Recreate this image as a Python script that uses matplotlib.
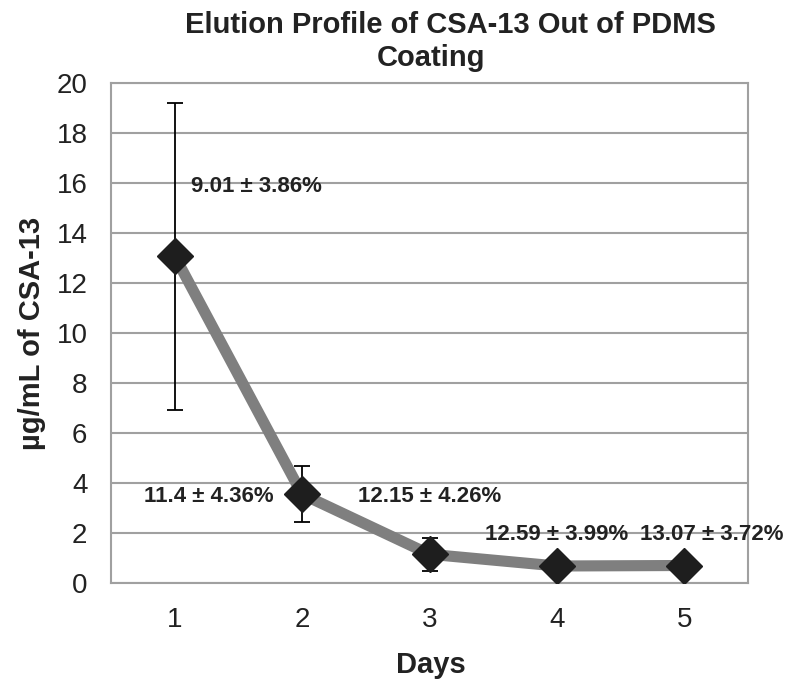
import matplotlib
matplotlib.use("Agg")
import matplotlib.pyplot as plt

days = [1, 2, 3, 4, 5]
conc = [13.08, 3.55, 1.15, 0.68, 0.70]
err = [6.14, 1.12, 0.66, 0.15, 0.15]
labels = ["9.01 ± 3.86%", "11.4 ± 4.36%", "12.15 ± 4.26%", "12.59 ± 3.99%", "13.07 ± 3.72%"]
label_pos = [(1.127, 15.88, "left"), (1.778, 3.44, "right"), (2.437, 3.44, "left"), (3.437, 1.92, "left"), (4.65, 1.92, "left")]
yticks = [0, 2, 4, 6, 8, 10, 12, 14, 16, 18, 20]
title_lines = ["Elution Profile of CSA-13 Out of PDMS", "Coating"]

plt.rcParams['font.family'] = ['Liberation Sans', 'DejaVu Sans']

W, H = 800, 690
fig = plt.figure(figsize=(8, 6.9), dpi=100)
ax = fig.add_axes([111/W, 1-583/H, (748-111)/W, (583-83)/H])

ax.plot(days, conc, color='#7f7f7f', lw=8, zorder=2, solid_capstyle='butt')
ax.errorbar(days, conc, yerr=err, fmt='none', ecolor='black', elinewidth=1.3, capsize=6, capthick=1.3, zorder=3)
ax.plot(days, conc, ls='none', marker='D', ms=18.5, mfc='#1e1e1e', mec='#1e1e1e', zorder=4)

for (x, y, ha), t in zip(label_pos, labels):
    ax.text(x, y, t, ha=ha, va='center', fontsize=16, fontweight='bold', color='#222222', zorder=5)

ax.set_xlim(0.5, 5.5)
ax.set_ylim(0, 20)
ax.set_yticks(yticks)
ax.set_xticks(days)
ax.yaxis.grid(True, color='#a0a0a0', lw=1.5)
ax.set_axisbelow(True)
for s in ax.spines.values():
    s.set_color('#a0a0a0')
    s.set_linewidth(1.5)
ax.tick_params(axis='y', length=0, labelsize=20, colors='#222222', pad=17)
ax.tick_params(axis='x', length=0, labelsize=20, colors='#222222', pad=17)

fig.text(431/W, 1-665/H, "Days", ha='center', va='center', fontsize=21, fontweight='bold', color='#222222')
fig.text(32/W, 1-333/H, "µg/mL of CSA-13", ha='center', va='center', rotation=90, fontsize=21, fontweight='bold', color='#222222')
fig.text(450/W, 1-25/H, title_lines[0], ha='center', va='center', fontsize=21, fontweight='bold', color='#222222')
fig.text(431/W, 1-58/H, title_lines[1], ha='center', va='center', fontsize=21, fontweight='bold', color='#222222')

fig.savefig("out.png", dpi=100)
